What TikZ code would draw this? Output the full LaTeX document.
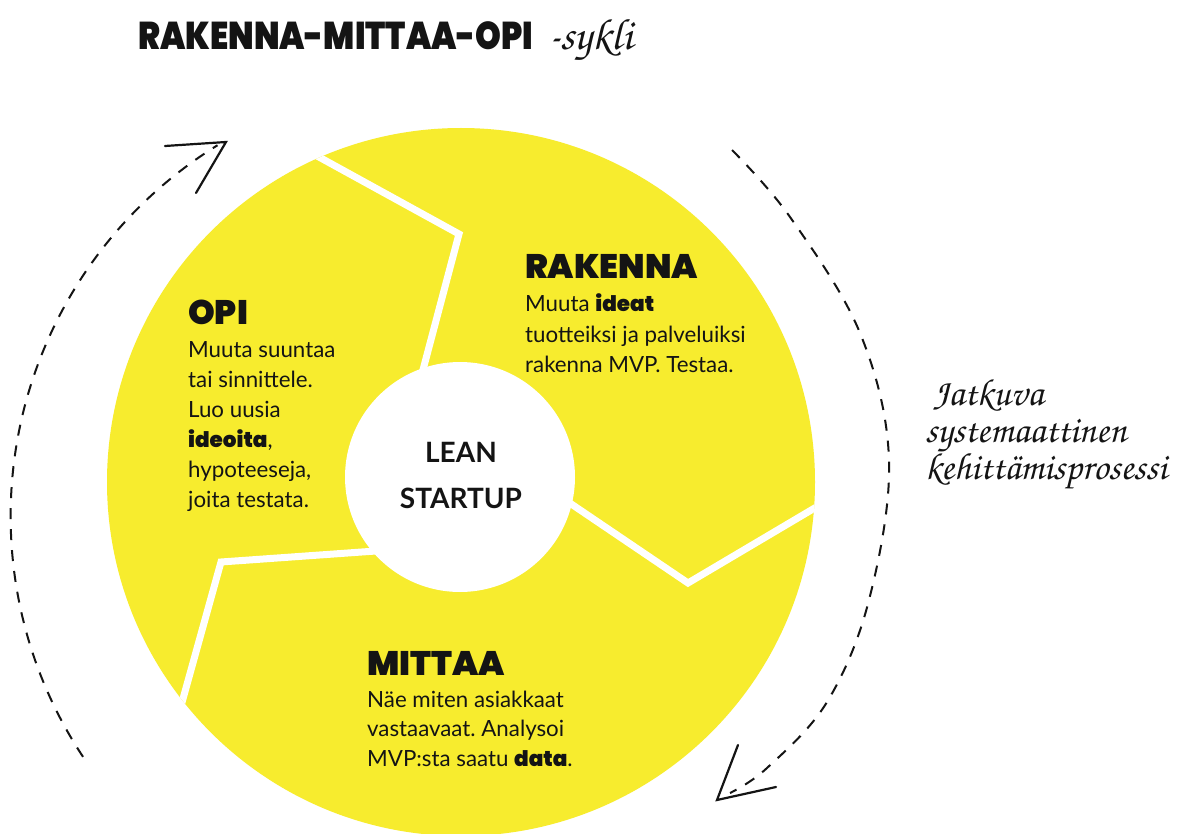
\documentclass[tikz,border=0pt]{standalone}
\usepackage[T1,TU]{fontenc}
\usepackage{fontspec}
\usepackage{graphicx}
\setmainfont{Lato}
\newfontfamily\heavyfont{Poppins Black}
\newcommand\handfont{\fontencoding{T1}\fontfamily{pzc}\fontseries{mb}\fontshape{it}\selectfont}
% stacked lines with a fixed baseline distance; the box's baseline is the first line's
\newcommand\linestack[2]{\vtop{\baselineskip=#1pt\relax\lineskiplimit=-100pt\relax #2}}
\frenchspacing

\definecolor{sunyellow}{RGB}{247,236,46}
\definecolor{ink}{RGB}{20,20,20}

\tikzset{
  txt/.style={inner sep=0pt, anchor=base west, text=ink},
  heading/.style={txt, font=\heavyfont\fontsize{34}{34}\selectfont},
  bodytext/.style={txt, font=\fontsize{22.3}{30}\selectfont},
  centertxt/.style={inner sep=0pt, anchor=base, text=ink, font=\bfseries\fontsize{28}{28}\selectfont},
  divider/.style={white, line width=7pt, line join=miter},
  cyclearc/.style={ink, line width=2pt, dash pattern=on 11pt off 10pt},
  tipline/.style={ink, line width=2.2pt, line cap=round, line join=miter},
}
\newcommand\hv[1]{{\heavyfont\fontsize{21.5}{21.5}\selectfont #1}}

\begin{document}
\begin{tikzpicture}[x=1pt,y=-1pt]
  \useasboundingbox (0,0) rectangle (1181,834);
  \fill[white] (0,0) rectangle (1181,834);

  % title
  \node[txt, font=\heavyfont\fontsize{32.8}{33}\selectfont] (title) at (138,50) {\scalebox{1}[1.18]{RAKENNA-MITTAA-OPI}};
  \node[txt, font=\handfont\fontsize{44}{44}\selectfont] (sykli) at (548,50) {-sykli};

  % yellow disk with the three phase dividers
  \fill[sunyellow] (461,482) circle[radius=354];
  \begin{scope}
    \clip (461,482) circle[radius=354];
    \draw[divider] (300,146.6) -- (459,234) -- (415,400);
    \draw[divider] (555,493) -- (688,583) -- (835,496);
    \draw[divider] (390,550) -- (221,562) -- (176,724);
  \end{scope}
  \fill[white] (460,477) circle[radius=115];

  % centre
  \node[centertxt] (lean) at (461,462) {LEAN};
  \node[centertxt] (startup) at (461,508) {STARTUP};

  % RAKENNA
  \node[heading] (rakH) at (525,279) {RAKENNA};
  \node[bodytext] (rakB) at (525,312) {\linestack{30.5}{%
    \hbox{Muuta \hv{ideat}}
    \hbox{tuotteiksi ja palveluiksi}
    \hbox{rakenna MVP. Testaa.}}};

  % OPI
  \node[heading] (opiH) at (188,325) {OPI};
  \node[bodytext] (opiB) at (188,357) {\linestack{30}{%
    \hbox{Muuta suuntaa}
    \hbox{tai sinnittele.}
    \hbox{Luo uusia}
    \hbox{\hv{ideoita},}
    \hbox{hypoteeseja,}
    \hbox{joita testata.}}};

  % MITTAA
  \node[heading] (mitH) at (367,675) {MITTAA};
  \node[bodytext] (mitB) at (367,707) {\linestack{29.5}{%
    \hbox{Näe miten asiakkaat}
    \hbox{vastaavaat. Analysoi}
    \hbox{MVP:sta saatu \hv{data}.}}};

  % continuous cycle arrows
  \draw[cyclearc] (446.6,516.2) ++(146.5:436) arc[start angle=146.5, end angle=238.3, radius=436];
  \draw[tipline] (165,146) -- (226,142) -- (196,193);
  \draw[cyclearc] plot[smooth, tension=0.6] coordinates
    {(732,150) (790,217) (860,333) (889,460) (869,600) (827,702) (767,768) (730,793)};
  \draw[tipline] (738,745) -- (717,800) -- (776,787);

  % side note
  \node[txt, font=\handfont\fontsize{38}{38}\selectfont] (note) at (933,405) {\linestack{37}{%
    \hbox{Jatkuva}
    \hbox{\kern-8pt systemaattinen}
    \hbox{\kern-8pt kehittämisprosessi}}};
\end{tikzpicture}
\end{document}
